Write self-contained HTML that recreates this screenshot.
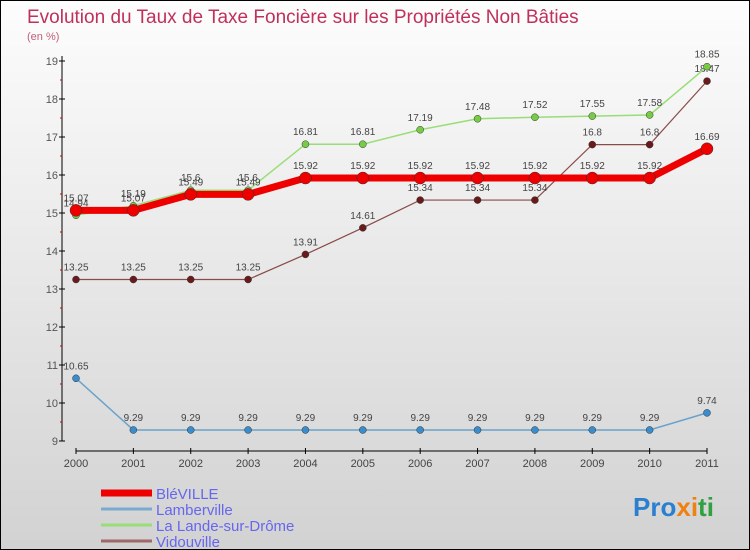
<!DOCTYPE html>
<html><head><meta charset="utf-8"><style>
body{margin:0}
#c{width:750px;height:550px;position:relative;box-sizing:border-box;border:1px solid #000;background:linear-gradient(#fdfdfd,#d2d2d2);font-family:"Liberation Sans",sans-serif;overflow:hidden}
svg{position:absolute;left:0;top:0}
</style></head><body>
<div id="c">
<svg id="s" width="750" height="550">
<text x="26" y="22" font-size="19" fill="#c0305a">Evolution du Taux de Taxe Foncière sur les Propriétés Non Bâties</text>
<text x="26" y="39" font-size="11" fill="#c0607a">(en %)</text>
<text x="632" y="515" font-size="26" font-weight="bold"><tspan fill="#2a7fd0">Pro</tspan><tspan fill="#f08010">x</tspan><tspan fill="#f08010">i</tspan><tspan fill="#30a040">ti</tspan></text>
</svg>
</div>
<script>
const years=[2000,2001,2002,2003,2004,2005,2006,2007,2008,2009,2010,2011];
const yTicks=[9,10,11,12,13,14,15,16,17,18,19];
const bleville=[15.07,15.07,15.49,15.49,15.92,15.92,15.92,15.92,15.92,15.92,15.92,16.69];
const lamberville=[10.65,9.29,9.29,9.29,9.29,9.29,9.29,9.29,9.29,9.29,9.29,9.74];
const lande=[14.94,15.19,15.6,15.6,16.81,16.81,17.19,17.48,17.52,17.55,17.58,18.85];
const vidouville=[13.25,13.25,13.25,13.25,13.91,14.61,15.34,15.34,15.34,16.8,16.8,18.47];
const names=["BléVILLE","Lamberville","La Lande-sur-Drôme","Vidouville"];
const NS="http://www.w3.org/2000/svg",s=document.getElementById('s');
const X=i=>75+i*(706-75)/(years.length-1);
const Y=v=>440-(v-9)*38;
function el(t,a,p){const e=document.createElementNS(NS,t);for(const k in a)e.setAttribute(k,a[k]);(p||s).appendChild(e);return e;}
// axes
let ax=el('line',{x1:61,y1:55,x2:61,y2:440,stroke:'#000'});


let bx=el('line',{x1:75,y1:450,x2:706,y2:450,stroke:'#000'});


yTicks.forEach((v,i)=>{
 el('line',{x1:58,y1:Y(v),x2:64,y2:Y(v),stroke:'#000'});
 if(i<yTicks.length-1)el('line',{x1:59,y1:Y(v+0.5),x2:61,y2:Y(v+0.5),stroke:'#d00'});
 const t=el('text',{x:57,y:Y(v)+4,'font-size':11,fill:'#555','text-anchor':'end'});t.textContent=v;
 
 
});
years.forEach((y,i)=>{
 el('line',{x1:X(i),y1:447,x2:X(i),y2:453,stroke:'#000'});
 const t=el('text',{x:X(i),y:466,'font-size':11,fill:'#444','text-anchor':'middle'});t.textContent=y;
 
 
});
function series(d,col,w,r,dot,name){
 const g=el('g',{});
 
 
 el('polyline',{points:d.map((v,i)=>X(i)+','+Y(v)).join(' '),fill:'none',stroke:col,'stroke-width':w},g);
 d.forEach((v,i)=>{
  const c=el('circle',{cx:X(i),cy:Y(v),r:r,fill:dot,stroke:'#333','stroke-width':0.5},g);
  
  
  const t=el('text',{x:X(i),y:Y(v)-9,'font-size':10,fill:'#444','text-anchor':'middle'},g);t.textContent=v;
  
  
 });
}
series(lamberville,'#6aa2cc',1.5,3.5,'#3a8ccc','lamberville-series');
series(vidouville,'#8a4a4a',1.2,3.5,'#6a1a1a','vidouville-series');
series(lande,'#99dd77',1.5,3.5,'#77cc44','lande-series');
series(bleville,'#ee0000',7,6,'#ee0000','bleville-series');
const cols=['#ee0000','#7aaad0','#99dd77','#a06868'],ws=[7,3,3,3];
names.forEach((n,i)=>{
 const y=492+i*16;
 const l=el('line',{x1:100,y1:y,x2:151,y2:y,stroke:cols[i],'stroke-width':ws[i]});
 
 
 const t=el('text',{x:155,y:y+6,'font-size':15,fill:'#6666ee'});t.textContent=n;
 
 
});
</script>
</body></html>
